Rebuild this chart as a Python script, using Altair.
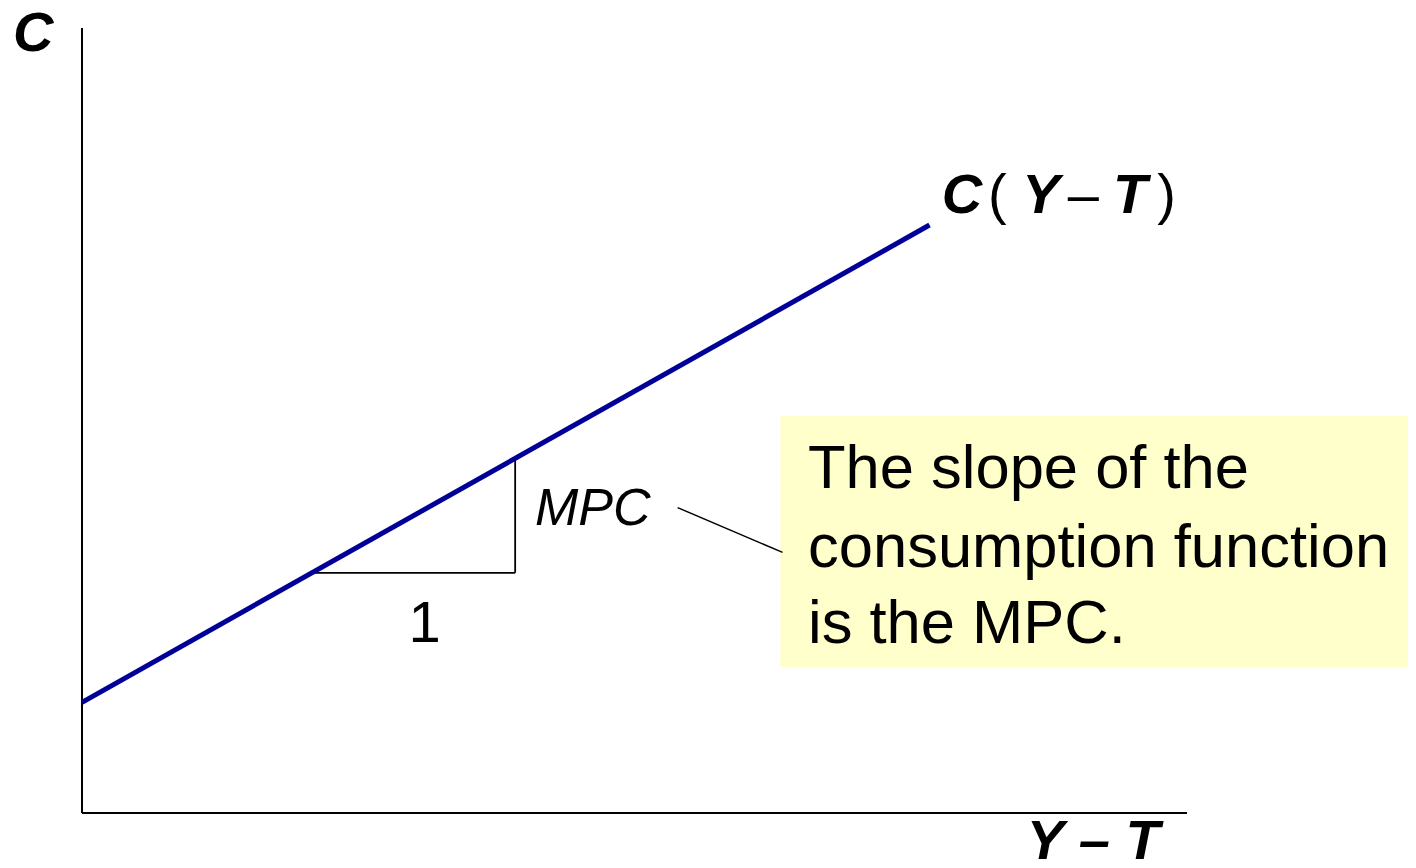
import altair as alt
import pandas as pd

# Diagram units: both axes run 0..100
line_x = [0.0, 76.7]
line_y = [14.1, 74.9]

# slope triangle (run of 1, rise of MPC)
tri_x = [20.8, 39.2]
tri_y_base = 30.6
tri_y_top = 45.2

# axes extents
axis_x_max = 100.0
axis_y_max = 100.0

# callout box and connector
box_x = [63.2, 120.0]
box_y = [18.6, 50.6]
conn_x = [53.9, 63.4]
conn_y = [38.9, 33.2]

box_lines = ["The slope of the", "consumption function", "is the MPC."]
box_text_x = 65.7
box_text_y = [41.4, 31.3, 21.7]

FONT = "Liberation Sans, Arial, Helvetica, sans-serif"

xs = alt.Scale(domain=[-6.697, 120.0], nice=False, zero=False)
ys = alt.Scale(domain=[-5.987, 102.55], nice=False, zero=False)


def X(f="x"):
    return alt.X(f"{f}:Q", scale=xs, axis=None)


def Y(f="y"):
    return alt.Y(f"{f}:Q", scale=ys, axis=None)


box = alt.Chart(pd.DataFrame({"x": [box_x[0]], "x2": [box_x[1]], "y": [box_y[0]], "y2": [box_y[1]]})).mark_rect(
    color="#FFFFCC"
).encode(x=X(), x2="x2:Q", y=Y(), y2="y2:Q")

axes = alt.Chart(pd.DataFrame({
    "x": [0.0, 0.0], "x2": [0.0, axis_x_max],
    "y": [0.0, 0.0], "y2": [axis_y_max, 0.0],
})).mark_rule(color="black", strokeWidth=2).encode(x=X(), x2="x2:Q", y=Y(), y2="y2:Q")

triangle = alt.Chart(pd.DataFrame({
    "x": [tri_x[0], tri_x[1]], "x2": [tri_x[1], tri_x[1]],
    "y": [tri_y_base, tri_y_base], "y2": [tri_y_base, tri_y_top],
})).mark_rule(color="black", strokeWidth=1.8).encode(x=X(), x2="x2:Q", y=Y(), y2="y2:Q")

connector = alt.Chart(pd.DataFrame({
    "x": [conn_x[0]], "x2": [conn_x[1]], "y": [conn_y[0]], "y2": [conn_y[1]],
})).mark_rule(color="black", strokeWidth=1.5).encode(x=X(), x2="x2:Q", y=Y(), y2="y2:Q")

cline = alt.Chart(pd.DataFrame({"x": line_x, "y": line_y})).mark_line(
    color="#000099", strokeWidth=5
).encode(x=X(), y=Y())


def txt(xv, yv, t, size, style="normal", weight="normal", align="left"):
    return alt.Chart(pd.DataFrame({"x": [xv], "y": [yv], "t": [t]})).mark_text(
        align=align, baseline="alphabetic", font=FONT, fontSize=size,
        fontStyle=style, fontWeight=weight, color="black"
    ).encode(x=X(), y=Y(), text="t:N")


texts = [
    txt(-6.24, 97.1, "C", 56, "italic", "bold"),
    txt(85.5, -5.9, "Y – T", 56, "italic", "bold"),
    txt(77.8, 76.4, "C", 56, "italic", "bold"),
    txt(82.0, 76.4, "(", 56),
    txt(85.1, 76.4, "Y", 56, "italic", "bold"),
    txt(89.2, 76.4, "–", 56),
    txt(93.3, 76.4, "T", 56, "italic", "bold"),
    txt(97.3, 76.4, ")", 56),
    txt(41.0, 36.7, "MPC", 52, "italic"),
    txt(31.0, 21.8, "1", 58, align="center"),
]
for t, yv in zip(box_lines, box_text_y):
    texts.append(txt(box_text_x, yv, t, 61.5))

chart = alt.layer(box, axes, triangle, connector, cline, *texts).properties(
    width=1400, height=852,
    autosize=alt.AutoSizeParams(type="none"),
    padding=0,
).configure_view(stroke=None)

chart.save("out.html", embed_options={"renderer": "svg", "actions": False})
